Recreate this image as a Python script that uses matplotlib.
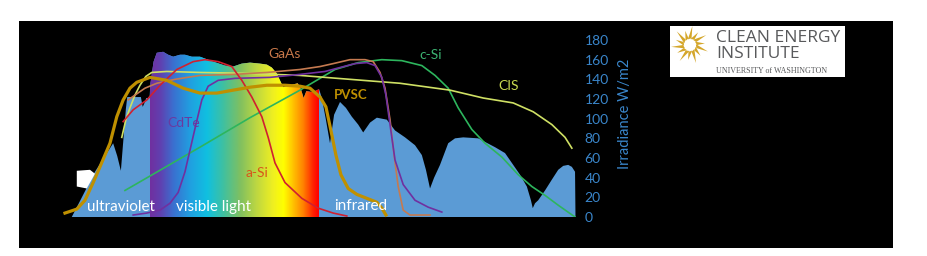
import numpy as np
import matplotlib
matplotlib.use("Agg")
import matplotlib.pyplot as plt
from matplotlib.colors import LinearSegmentedColormap
from matplotlib.patches import Polygon

plt.rcParams['font.family'] = ['Lato', 'DejaVu Sans']

# solar irradiance (wavelength nm, W/m2)
irr_wl = [208, 259, 299, 308, 316, 320, 327, 330, 360, 364, 368, 372, 379, 381, 388, 395,
          409, 420, 431, 446, 457, 472, 490, 519, 545, 563, 582, 600, 622, 637, 648, 659,
          673, 688, 705, 712, 718, 724, 738, 747, 752, 758, 767, 776, 785, 798, 811, 824,
          838, 849, 864, 879, 901, 919, 941, 963, 978, 987, 996, 1005, 1018, 1036, 1051,
          1069, 1102, 1139, 1161, 1176, 1194, 1209, 1218, 1222, 1227, 1234, 1249, 1264,
          1278, 1289, 1300, 1308, 1315, 1316]
irr_val = [0, 46, 75, 62, 47, 70, 110, 122, 122, 112, 116, 121, 121, 136, 158, 167,
           168, 165, 163, 165, 165, 163, 163, 158, 154, 153, 156, 157, 156, 155, 152, 146,
           132, 134, 136, 130, 121, 128, 127, 129, 130, 121, 99, 75, 104, 117, 111, 102,
           94, 86, 96, 101, 99, 88, 81, 73, 63, 48, 29, 40, 53, 75, 80,
           81, 80, 71, 65, 55, 43, 31, 17, 9, 14, 17, 27, 38,
           48, 52, 53, 51, 46, 0]

# quantum-efficiency style curves (same vertical scale)
pvsc_wl = [193, 219, 237, 255, 270, 292, 307, 321, 336, 351, 380, 417, 453, 490, 527, 563,
           600, 637, 677, 710, 732, 754, 767, 778, 789, 800, 816, 835, 857, 879, 890, 899]
pvsc_val = [4, 8, 17, 35, 51, 75, 102, 119, 131, 137, 142, 139, 131, 126, 126, 129,
            132, 134, 134, 133, 131, 122, 112, 88, 63, 43, 29, 23, 19, 15, 9, 2]

gaas_wl = [332, 347, 369, 395, 435, 490, 563, 637, 710, 754, 783, 820, 853, 871, 886, 897,
           908, 917, 926, 937, 952, 996]
gaas_val = [119, 124, 131, 136, 140, 144, 145, 147, 150, 153, 156, 160, 160, 158, 147, 131,
            99, 63, 31, 7, 2, 2]

cdte_wl = [343, 373, 402, 424, 442, 457, 468, 481, 494, 508, 530, 567, 644, 710, 765, 798,
           831, 857, 875, 890, 899, 908, 919, 937, 963, 992, 1022]
cdte_val = [2, 4, 7, 14, 25, 46, 68, 94, 119, 133, 139, 141, 142, 145, 148, 152,
            156, 157, 154, 142, 124, 94, 58, 33, 17, 10, 5]

asi_wl = [321, 343, 373, 402, 439, 475, 501, 530, 560, 582, 604, 626, 640, 655, 677, 714,
          750, 783, 813]
asi_val = [97, 109, 119, 134, 150, 158, 160, 158, 153, 139, 122, 102, 81, 55, 35, 19,
           9, 4, 1]

cis_wl = [318, 327, 336, 347, 358, 371, 384, 417, 490, 600, 710, 820, 930, 1040, 1113,
          1179, 1223, 1264, 1293, 1308]
cis_val = [81, 99, 111, 124, 134, 143, 147, 148, 147, 146, 144, 140, 136, 129, 121,
           116, 107, 94, 81, 70]

csi_wl = [325, 490, 600, 710, 754, 787, 838, 890, 934, 978, 1007, 1036, 1058, 1088, 1117,
          1154, 1190, 1220, 1249, 1278, 1315]
csi_val = [27, 71, 101, 129, 141, 150, 157, 160, 159, 154, 144, 131, 111, 89, 75,
           61, 43, 31, 22, 12, 0]

blob_wl = [219, 248, 259, 241, 219]
blob_val = [47, 48, 44, 29, 31]

rainbow_pos = [380, 402, 431, 468, 505, 541, 578, 615, 651, 673, 695, 717, 739, 750]
rainbow_col = ['#7030A0', '#6040B0', '#3A70D0', '#20A0E0', '#10C0E0', '#40C0A0', '#80C060',
               '#C0D840', '#F0F020', '#FFFF00', '#FFC000', '#FF8000', '#FF2000', '#FF0000']

yticks = [0, 20, 40, 60, 80, 100, 120, 140, 160, 180]

fig = plt.figure(figsize=(9.28, 2.56), dpi=100)
fig.patch.set_facecolor('white')

bg = fig.add_axes([19 / 928, 8 / 256, 874 / 928, 227 / 256], zorder=-5)
bg.set_facecolor('black')
bg.set_xticks([])
bg.set_yticks([])
for s in bg.spines.values():
    s.set_visible(False)

ax = fig.add_axes([63.6 / 928, 39 / 256, 512.8 / 928, 177 / 256], zorder=1)
ax.set_facecolor('none')

poly = ax.fill(irr_wl, irr_val, color='#5B9BD5', zorder=1, lw=0)[0]

lo, hi = rainbow_pos[0], rainbow_pos[-1]
cmap = LinearSegmentedColormap.from_list(
    'rainbow_band', [((p - lo) / (hi - lo), c) for p, c in zip(rainbow_pos, rainbow_col)])
grad = np.linspace(lo, hi, 400).reshape(1, -1)
im = ax.imshow(grad, extent=(lo, hi, 0, 180), aspect='auto', cmap=cmap,
               origin='lower', zorder=2)
im.set_clip_path(poly)

ax.add_patch(Polygon(np.column_stack([blob_wl, blob_val]), closed=True,
                     facecolor='white', edgecolor='none', zorder=3))

ax.plot(csi_wl, csi_val, color='#2DB55D', lw=1.2, zorder=4)
ax.plot(cis_wl, cis_val, color='#CFE064', lw=1.2, zorder=4)
ax.plot(gaas_wl, gaas_val, color='#C57A50', lw=1.2, zorder=4)
ax.plot(cdte_wl, cdte_val, color='#7030A0', lw=1.2, zorder=4)
ax.plot(asi_wl, asi_val, color='#D02030', lw=1.2, zorder=4)
ax.plot(pvsc_wl, pvsc_val, color='#BF9000', lw=2.3, zorder=5, clip_on=False)

ax.text(677, 166, 'GaAs', color='#C8784A', fontsize=10, ha='center', va='center')
ax.text(998, 165, 'c-Si', color='#3CB371', fontsize=10, ha='center', va='center')
ax.text(1168, 133, 'CIS', color='#C8D850', fontsize=10, ha='center', va='center')
ax.text(822, 124, 'PVSC', color='#BF9000', fontsize=9.5, fontweight='bold',
        ha='center', va='center')
ax.text(455, 96, 'CdTe', color='#6A3AA0', fontsize=10, ha='center', va='center')
ax.text(615, 45, 'a-Si', color='#D8561A', fontsize=10, ha='center', va='center')
ax.text(316, 10, 'ultraviolet', color='white', fontsize=11, ha='center', va='center', zorder=6)
ax.text(519, 10, 'visible light', color='white', fontsize=11, ha='center', va='center', zorder=6)
ax.text(844, 11, 'infrared', color='white', fontsize=11, ha='center', va='center', zorder=6)

ax.set_xlim(190, 1318)
ax.set_ylim(0, 180)
ax.set_xticks([])
ax.yaxis.tick_right()
ax.set_yticks(yticks)
ax.tick_params(axis='y', length=0, pad=6, labelsize=10, labelcolor='#3A86CB')
for s in ax.spines.values():
    s.set_visible(False)

fig.text(625 / 928, 1 - 114 / 256, 'Irradiance W/m2', rotation=90, color='#3A86CB',
         fontsize=10.5, ha='center', va='center')

# logo
lg = fig.add_axes([670 / 928, 1 - 77 / 256, 175 / 928, 51 / 256], zorder=2)
lg.set_xlim(0, 175)
lg.set_ylim(51, 0)
lg.set_facecolor('white')
lg.set_xticks([])
lg.set_yticks([])
for s in lg.spines.values():
    s.set_visible(False)
cx, cy = 20, 19
for k in range(14):
    a = 2 * np.pi * k / 14 + 0.2
    r_out = 19 if k % 2 == 0 else 15
    pts = [(cx + 6 * np.cos(a - 0.35), cy + 6 * np.sin(a - 0.35)),
           (cx + r_out * np.cos(a + 0.15), cy + r_out * np.sin(a + 0.15)),
           (cx + 7 * np.cos(a + 0.25), cy + 7 * np.sin(a + 0.25))]
    lg.add_patch(Polygon(pts, closed=True, facecolor='#D4A62A', edgecolor='none'))
lg.text(46, 12, 'CLEAN ENERGY', color='#58595B', fontsize=12.5, ha='left', va='center',
        family=['Open Sans', 'DejaVu Sans'], fontweight='medium')
lg.text(46, 28, 'INSTITUTE', color='#58595B', fontsize=12.5, ha='left', va='center',
        family=['Open Sans', 'DejaVu Sans'], fontweight='medium')
lg.text(46, 45, 'UNIVERSITY of WASHINGTON', color='#58595B', fontsize=5.8, ha='left',
        va='center', family=['Liberation Serif', 'DejaVu Serif'])

fig.savefig('out.png', dpi=100, facecolor='white')
